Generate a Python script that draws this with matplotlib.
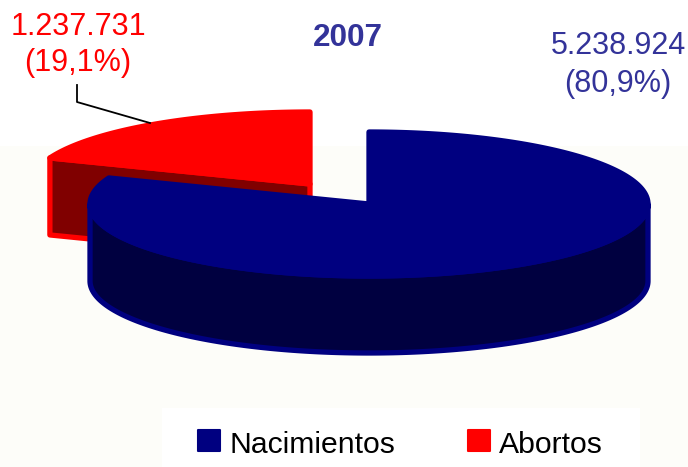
import numpy as np
import matplotlib
matplotlib.use("Agg")
import matplotlib.pyplot as plt
from matplotlib.patches import Polygon, Rectangle

plt.rcParams['font.family'] = ['Liberation Sans', 'DejaVu Sans']

categories = ["Nacimientos", "Abortos"]
values = [5238924, 1237731]
labels = ["5.238.924\n(80,9%)", "1.237.731\n(19,1%)"]
colors = ["#000080", "#ff0000"]
side_colors = ["#000040", "#800000"]
title = "2007"

# pie layout in pixels
rx = 279
ry = 72
depth = 77
blue_c = (369, 204)
red_c = (310, 184)
edge = 3.8

frac = values[0] / sum(values)
cut = frac * 2 * np.pi   # clockwise from 12 o'clock


def rim(c, a):
    return np.column_stack([c[0] + rx * np.sin(a), c[1] - ry * np.cos(a)])


fig = plt.figure(figsize=(6.88, 4.67), dpi=100)
ax = fig.add_axes([0, 0, 1, 1])
ax.set_xlim(0, 688)
ax.set_ylim(467, 0)
ax.axis('off')

ax.add_patch(Rectangle((0, 146), 688, 321, fc="#fdfdf9", ec="none", zorder=0))
ax.add_patch(Rectangle((162, 408), 478, 59, fc="white", ec="none", zorder=1))

# red slice, pulled out
a = np.linspace(cut, 2 * np.pi, 120)
arc = rim(red_c, a)
face = np.vstack([[red_c], arc])
wall = np.array([arc[0], red_c, [red_c[0], red_c[1] + depth], arc[0] + [0, depth]])
ax.add_patch(Polygon(wall, fc=side_colors[1], ec=colors[1], lw=edge, joinstyle='round', zorder=2))
ax.add_patch(Polygon(face, fc=colors[1], ec=colors[1], lw=edge, joinstyle='round', zorder=3))

# blue slice
a = np.linspace(np.pi / 2, 3 * np.pi / 2, 200)
arc = rim(blue_c, a)
side = np.vstack([arc, (arc + [0, depth])[::-1]])
ax.add_patch(Polygon(side, fc=side_colors[0], ec=colors[0], lw=edge, joinstyle='round', zorder=4))
a = np.linspace(0, cut, 300)
face = np.vstack([[blue_c], rim(blue_c, a)])
ax.add_patch(Polygon(face, fc=colors[0], ec=colors[0], lw=edge, joinstyle='round', zorder=5))

# leader line
ax.plot([77, 77, 150], [85, 102, 123], color="black", lw=1.3, zorder=6)

ax.text(348, 38, title, color="#333399", fontsize=22.7, fontweight='bold', ha='center', va='center')
ax.text(618, 65, labels[0], color="#333399", fontsize=22, ha='center', va='center', linespacing=1.32)
ax.text(78, 45, labels[1], color="#ff0000", fontsize=22, ha='center', va='center', linespacing=1.3)

# legend
for x, c, t in zip([198, 468], colors, categories):
    ax.add_patch(Rectangle((x, 430), 22, 21, fc=c, ec=c, lw=1.5, joinstyle='round', zorder=6))
    ax.text(x + 31, 445, t, color="black", fontsize=21.7, ha='left', va='center')

fig.savefig("out.png", dpi=100)
